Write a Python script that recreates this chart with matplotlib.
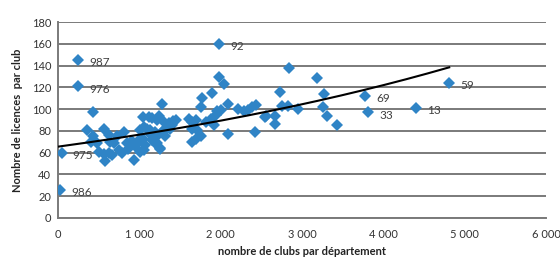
import numpy as np
import matplotlib
matplotlib.use("Agg")
import matplotlib.pyplot as plt
from matplotlib.ticker import FuncFormatter

plt.rcParams['font.family'] = ['Lato', 'DejaVu Sans']

# Labelled departments: (code, clubs, licences per club)
labelled_codes = ["987", "976", "92", "986", "975", "59", "13", "69", "33"]
labelled_x = [243, 243, 1980, 25, 45, 4810, 4400, 3775, 3815]
labelled_y = [145, 121, 160, 26, 60, 124, 101, 112, 97]

# Other departments
other_x = [436, 354, 424, 400, 560, 478, 621, 642, 725, 683, 806, 848, 910, 950,
           992, 1041, 498, 560, 621, 663, 745, 786, 860, 580, 930, 1053, 1013,
           1041, 1053, 890, 1115, 1218, 1095, 1136, 1280, 1240, 1157, 1012, 1136,
           1198, 1300, 1321, 1220, 1260, 1362, 1416, 1610, 1650, 1815, 1875, 1940,
           1960, 2000, 1650, 1713, 1920, 1775, 1898, 1753, 1692, 1692, 1650, 1980,
           2035, 2090, 2215, 2285, 2330, 2390, 2435, 2085, 2420, 2555, 2545, 2670,
           2670, 2760, 2830, 2945, 2845, 3185, 2733, 3275, 3255, 3305, 3435, 1755,
           1300, 1404, 1333, 1280, 1218, 1198, 1260, 1157, 1075, 1450, 1380]
other_y = [97, 81, 75, 70, 82, 69, 76, 70, 75, 69, 79, 69, 71, 66,
           72, 73, 61, 59, 60, 58, 62, 60, 63, 52, 53, 62, 61,
           93, 84, 69, 93, 90, 82, 77, 105, 94, 92, 81, 81,
           79, 81, 75, 69, 63, 87, 89, 91, 88, 88, 91, 95,
           98, 99, 82, 81, 85, 110, 115, 102, 90, 73, 70, 130,
           123, 105, 100, 98, 99, 102, 104, 77, 79, 94, 93, 94,
           86, 103, 103, 100, 138, 129, 116, 114, 102, 94, 85, 75,
           88, 85, 82, 79, 75, 69, 64, 72, 67, 90, 82]

all_x = np.array(labelled_x + other_x, dtype=float)
all_y = np.array(labelled_y + other_y, dtype=float)

fig = plt.figure(figsize=(5.6, 2.57), dpi=100)
ax = fig.add_axes([0.1036, 0.152, 0.8714, 0.762])

color = "#2f84c6"
ax.plot(all_x, all_y, linestyle="none", marker="D", markersize=6.5,
        color=color, markeredgewidth=0, zorder=3)

# Exponential trend line (as Excel: fit of ln(y))
b, ln_a = np.polyfit(all_x, np.log(all_y), 1)
tx = np.linspace(0, all_x.max(), 200)
ax.plot(tx, np.exp(ln_a) * np.exp(b * tx), color="black", lw=1.5, zorder=4)

for code, x, y in zip(labelled_codes, labelled_x, labelled_y):
    ax.annotate(code, (x, y), xytext=(8, -2), textcoords="offset points",
                va="center", ha="left", fontsize=8.5, color="#404040")

ax.set_xlim(0, 6000)
ax.set_ylim(0, 180)
ax.set_xticks(np.arange(0, 6001, 1000))
ax.set_yticks(np.arange(0, 181, 20))
ax.xaxis.set_major_formatter(FuncFormatter(lambda v, p: f"{int(v):,}".replace(",", " ")))
ax.tick_params(axis="both", length=0, labelsize=8, colors="#333333")
ax.tick_params(axis="x", pad=8)
ax.tick_params(axis="y", pad=5)

ax.grid(axis="y", color="#7a7a7a", lw=1.4)
ax.set_axisbelow(True)
for s in ["top", "right"]:
    ax.spines[s].set_visible(False)
ax.spines["left"].set_color("#7a7a7a")
ax.spines["left"].set_linewidth(1.4)
ax.spines["bottom"].set_color("#7a7a7a")
ax.spines["bottom"].set_linewidth(1.4)

ax.set_xlabel("nombre de clubs par département", fontsize=8, fontweight="bold",
              labelpad=4, color="#222222")
ax.set_ylabel("Nombre de licences  par club", fontsize=8, fontweight="bold",
              labelpad=6, color="#222222")

fig.savefig("out.png", dpi=100)
